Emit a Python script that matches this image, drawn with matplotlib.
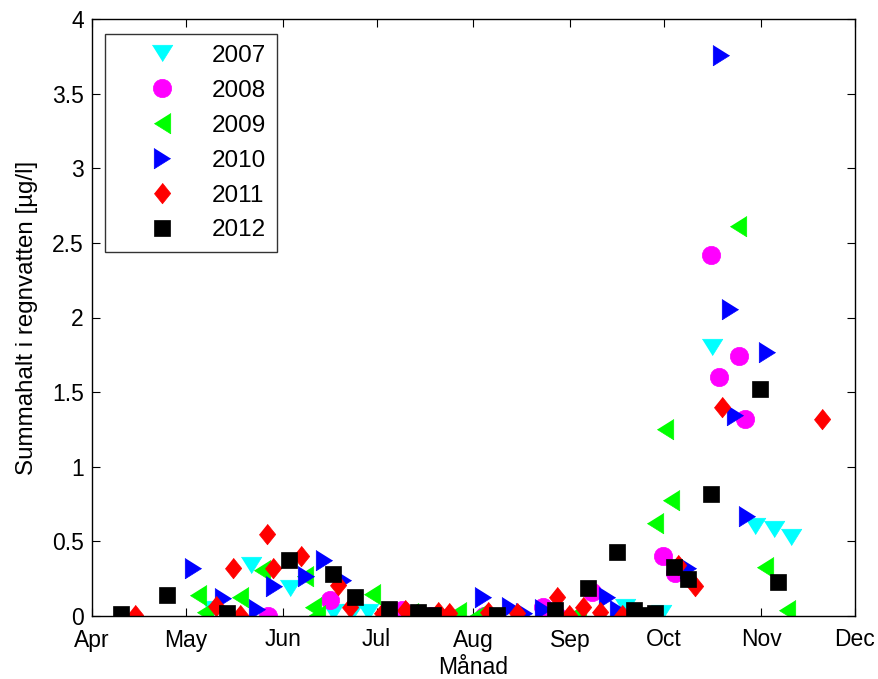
import matplotlib
matplotlib.use("Agg")
import matplotlib.pyplot as plt

plt.rcParams['font.family'] = ['Liberation Sans', 'DejaVu Sans']

month_ticks = [91, 121, 152, 182, 213, 244, 274, 305, 335]
month_labels = ['Apr', 'May', 'Jun', 'Jul', 'Aug', 'Sep', 'Oct', 'Nov', 'Dec']
y_ticks = [0, 0.5, 1, 1.5, 2, 2.5, 3, 3.5, 4]
y_labels = ['0', '0.5', '1', '1.5', '2', '2.5', '3', '3.5', '4']

# day of year, value
d2007 = [129.3, 141.8, 154.3, 168.2, 174.0, 179.4, 261.4, 273.0, 289.4, 303.0, 309.2, 314.4]
v2007 = [0.05, 0.34, 0.19, 0.03, 0.03, 0.03, 0.06, 0.02, 1.80, 0.60, 0.58, 0.53]

d2008 = [147.2, 167.1, 190.0, 197.0, 199.5, 216.5, 235.3, 239.8, 250.8, 273.7, 277.4, 289.0, 291.6, 298.0, 299.9]
v2008 = [0.00, 0.107, 0.04, 0.00, 0.00, 0.00, 0.06, 0.00, 0.16, 0.40, 0.29, 2.42, 1.60, 1.74, 1.32]

d2009 = [125.0, 127.1, 138.3, 145.3, 159.1, 161.8, 162.8, 180.4, 192.7, 194.8, 208.2, 214.5, 246.5, 271.0, 274.2, 276.0, 297.7, 306.3, 313.2]
v2009 = [0.14, 0.03, 0.13, 0.31, 0.27, 0.06, 0.01, 0.15, 0.02, 0.01, 0.03, 0.01, 0.02, 0.62, 1.25, 0.78, 2.61, 0.33, 0.04]

d2010 = [123.2, 132.8, 143.9, 149.2, 159.4, 165.2, 171.4, 216.1, 224.7, 229.2, 235.3, 255.8, 259.3, 281.7, 292.0, 295.0, 296.6, 300.4, 307.0]
v2010 = [0.32, 0.12, 0.045, 0.20, 0.27, 0.375, 0.24, 0.125, 0.06, 0.02, 0.05, 0.13, 0.04, 0.32, 3.76, 2.06, 1.35, 0.67, 1.77]

d2011 = [104.8, 130.7, 136.2, 138.3, 147.1, 148.8, 157.8, 169.8, 173.5, 183.6, 191.1, 201.8, 205.3, 217.7, 226.8, 239.8, 243.6, 248.1, 253.5, 260.4, 278.5, 283.9, 292.6, 324.5]
v2011 = [0.01, 0.07, 0.32, 0.01, 0.55, 0.32, 0.40, 0.21, 0.06, 0.02, 0.04, 0.03, 0.02, 0.03, 0.02, 0.125, 0.01, 0.06, 0.03, 0.01, 0.34, 0.20, 1.40, 1.32]

d2012 = [100.3, 115.1, 134.3, 154.0, 168.0, 175.1, 186.0, 195.4, 199.9, 220.4, 239.1, 249.7, 258.8, 264.4, 266.2, 270.9, 277.2, 281.7, 288.8, 304.7, 310.5]
v2012 = [0.015, 0.14, 0.02, 0.375, 0.28, 0.125, 0.045, 0.03, 0.01, 0.005, 0.04, 0.19, 0.43, 0.04, 0.005, 0.02, 0.33, 0.25, 0.82, 1.52, 0.23]

years = ['2007', '2008', '2009', '2010', '2011', '2012']
colors = ['#00ffff', '#ff00ff', '#00ff00', '#0000ff', '#ff0000', '#000000']

tri_down = [(-1, 0.8), (1, 0.8), (0, -0.8)]
tri_left = [(0.8, 1), (0.8, -1), (-0.8, 0)]
tri_right = [(-0.8, 1), (-0.8, -1), (0.8, 0)]
diamond = [(0, 1), (0.8, 0), (0, -1), (-0.8, 0)]
markers = [tri_down, 'o', tri_left, tri_right, diamond, 's']
msizes = [14.8, 13.2, 14.8, 14.8, 14.8, 12.0]

days = [d2007, d2008, d2009, d2010, d2011, d2012]
vals = [v2007, v2008, v2009, v2010, v2011, v2012]

fig = plt.figure(figsize=(8.79, 6.79), dpi=100)
ax = fig.add_axes([92/879, 1-616/679, (855-92)/879, (616-19)/679])

for d, v, c, m, ms, lab in zip(days, vals, colors, markers, msizes, years):
    ax.plot(d, v, linestyle='none', marker=m, markersize=ms, color=c,
            markerfacecolor=c, markeredgecolor=c, markeredgewidth=0.5, label=lab)

ax.set_xlim(91, 335)
ax.set_ylim(0, 4)
ax.set_xticks(month_ticks)
ax.set_xticklabels(month_labels)
ax.set_yticks(y_ticks)
ax.set_yticklabels(y_labels)
ax.tick_params(direction='in', length=6, width=0.8, top=True, right=True,
               labelsize=16.5)
ax.tick_params(axis='x', pad=9)
ax.tick_params(axis='y', pad=6)
for s in ax.spines.values():
    s.set_linewidth(1.0)

ax.set_xlabel('Månad', fontsize=16.5, labelpad=3)
ax.set_ylabel('Summahalt i regnvatten [µg/l]', fontsize=17.4, labelpad=10)

leg = ax.legend(loc='upper left', bbox_to_anchor=(13/763, 1-15/597), borderaxespad=0,
                fontsize=17.5, frameon=True, fancybox=False, edgecolor='black',
                borderpad=0.45, handlelength=3.8, handletextpad=0.15, labelspacing=0.53,
                numpoints=1)
leg.get_frame().set_linewidth(1.0)

fig.savefig('out.png', dpi=100)
